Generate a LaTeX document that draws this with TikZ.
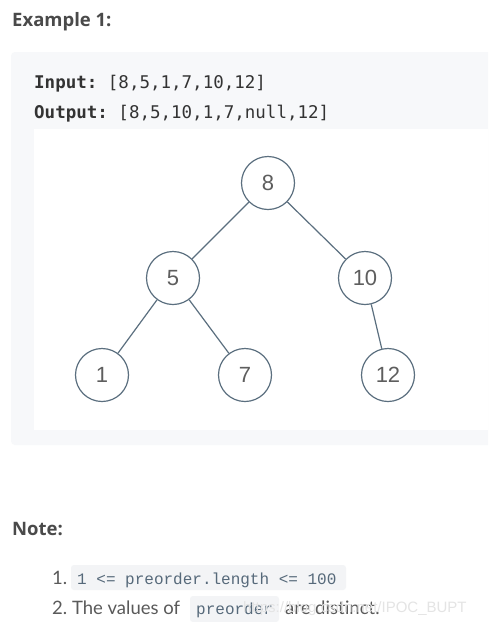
\documentclass[tikz,border=0pt]{standalone}
\usepackage{fontspec}
\setmainfont{Lato}
\newfontfamily\headfont{Open Sans}
\newfontfamily\codefont{DejaVu Sans Mono}
\newfontfamily\notecode{Liberation Mono}
\newfontfamily\nodefont{Liberation Sans}
\definecolor{boxgray}{HTML}{F7F8FA}
\definecolor{codebg}{HTML}{F3F4F6}
\definecolor{stroke}{HTML}{5B6F7F}
\definecolor{headtext}{HTML}{4A4A4A}
\definecolor{nodetext}{HTML}{5E5E5E}
\definecolor{codetext}{HTML}{333333}
\definecolor{notetext}{HTML}{5A5A5A}
\definecolor{codeblue}{HTML}{56697A}
\definecolor{wmark}{HTML}{E4E4E4}
\tikzset{
  treenode/.style={circle, draw=stroke, line width=1.2pt, fill=white, minimum size=53pt, inner sep=0pt, font=\nodefont\fontsize{22}{22}\selectfont, text=nodetext},
  edge/.style={draw=stroke, line width=1.2pt},
  txt/.style={anchor=base west, inner sep=0pt},
  head/.style={txt, text=headtext, font=\headfont\bfseries\fontsize{18.5}{18.5}\selectfont},
  body/.style={txt, text=notetext, font=\fontsize{18.5}{18.5}\selectfont},
  codebox/.style={fill=codebg, rounded corners=3pt}
}
\begin{document}
\frenchspacing
\begin{tikzpicture}[x=1pt,y=-1pt]
\useasboundingbox (0,0) rectangle (488,622);
\clip (0,0) rectangle (488,622);
\fill[white] (0,0) rectangle (488,622);
\fill[boxgray, rounded corners=4pt] (11,52) rectangle (500,445);
\fill[white] (34,129) rectangle (500,430);

\node[head] (ex) at (12,26) {Example 1:};
\node[txt, text=codetext, font=\codefont\fontsize{17.5}{17.5}\selectfont] (inp) at (34,88) {\textbf{Input:} [8,5,1,7,10,12]};
\node[txt, text=codetext, font=\codefont\fontsize{17.5}{17.5}\selectfont] (outp) at (34,118) {\textbf{Output:} [8,5,10,1,7,null,12]};

\node[treenode] (n8) at (268,183) {8};
\node[treenode] (n5) at (173,278) {5};
\node[treenode] (n10) at (365,278) {10};
\node[treenode] (n1) at (102,375) {1};
\node[treenode] (n7) at (245,375) {7};
\node[treenode] (n12) at (388,375) {12};
\draw[edge] (n8) -- (n5);
\draw[edge] (n8) -- (n10);
\draw[edge] (n5) -- (n1);
\draw[edge] (n5) -- (n7);
\draw[edge] (n10) -- (n12);

\node[head] (note) at (12,535) {Note:};

\fill[codebox] (71,565) rectangle (346,590);
\fill[codebox] (190,596) rectangle (279,622);
\node[body] (l1) at (52,584) {1.};
\node[txt, text=codeblue, font=\notecode\fontsize{16}{16}\selectfont] (c1) at (77,584) {1 <= preorder.length <= 100};
\node[body] (l2) at (52,614) {2. The values of};
\node[txt, text=codeblue, font=\notecode\fontsize{16}{16}\selectfont] (c2) at (196,614) {preorder};
\node[body] (l3) at (285,614) {are distinct.};
\node[txt, text=wmark, font=\nodefont\fontsize{15}{15}\selectfont] (wm) at (243,612) {https://blog.csdn.net/IPOC\_BUPT};
\end{tikzpicture}
\end{document}
